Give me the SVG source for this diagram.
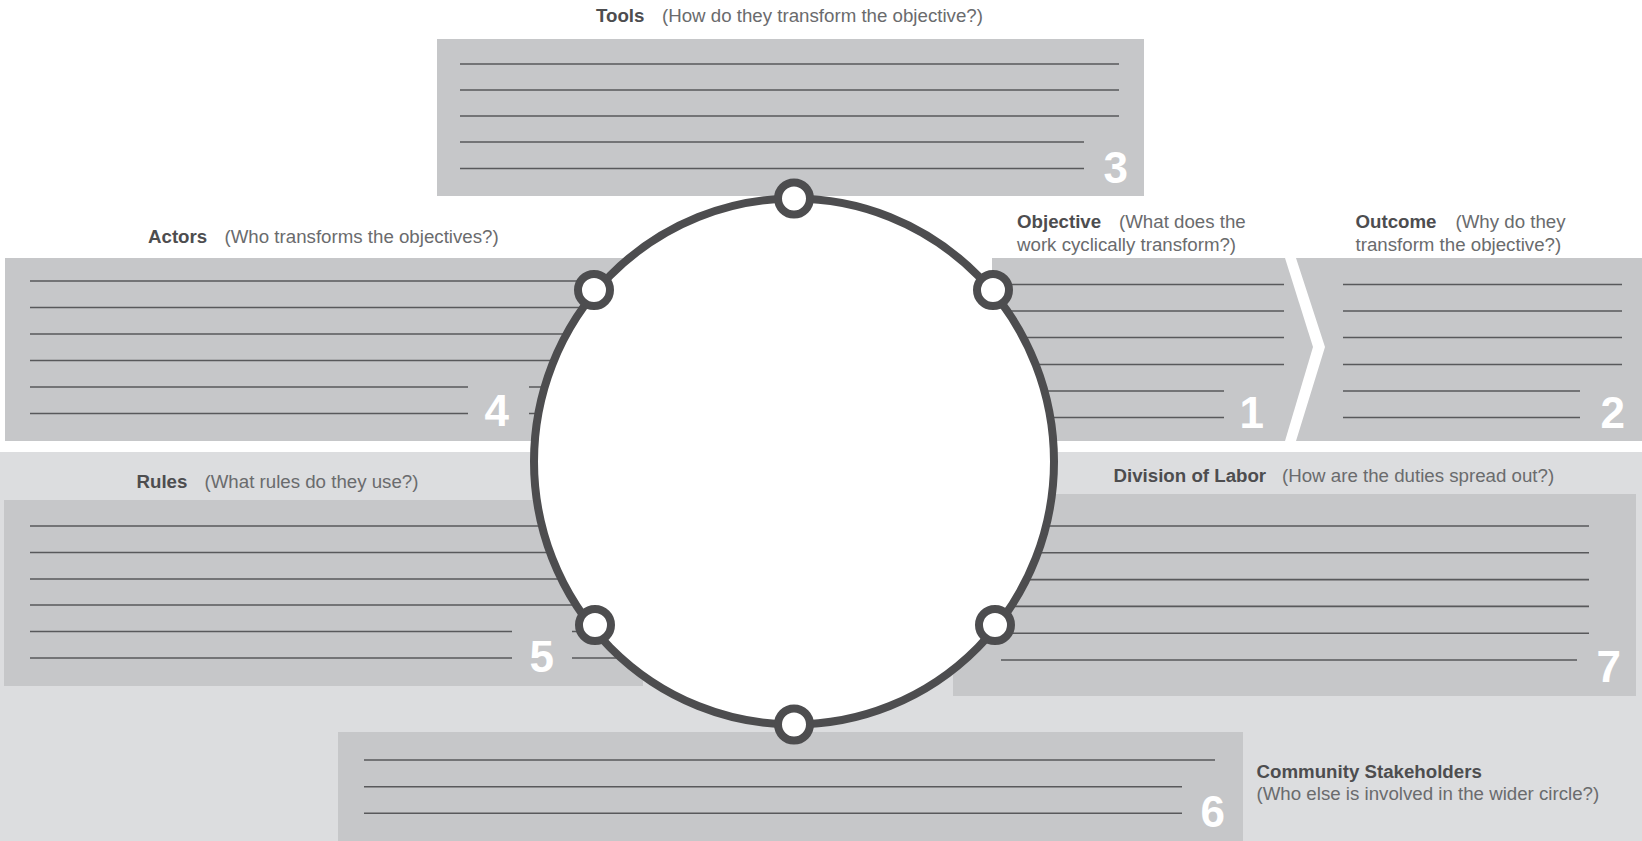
<svg xmlns="http://www.w3.org/2000/svg" width="1642" height="841" viewBox="0 0 1642 841">
<style>
.box{fill:#c6c7c9}
.ln{stroke:#58595b;stroke-width:1.6;fill:none}
.num{font-family:"Liberation Sans",Arial,sans-serif;font-weight:bold;font-size:44px;fill:#ffffff;text-anchor:end}
.lbl{font-family:"Liberation Sans",Arial,sans-serif;font-size:18.7px}
.b{font-weight:bold;fill:#4d4d4f}
.r{fill:#6a6b6d}
.ring{fill:#ffffff;stroke:#4d4d4f;stroke-width:8}
.dot{fill:#ffffff;stroke:#4d4d4f;stroke-width:8}
</style>
<rect x="0" y="0" width="1642" height="841" fill="#ffffff"/>
<rect x="0" y="452" width="1642" height="389" fill="#dcdddf"/>

<g id="node-tools">
<rect class="box" x="437" y="39" width="707" height="157"/>
<path class="ln" d="M460 64H1119M460 90H1119M460 116H1119M460 142H1084M460 168.5H1084"/>
<text class="num" x="1128" y="183">3</text>
<text class="lbl" y="22"><tspan class="b" x="596">Tools</tspan><tspan class="r" x="662">(How do they transform the objective?)</tspan></text>
</g>

<g id="node-actors">
<rect class="box" x="5" y="258" width="635" height="183"/>
<path class="ln" d="M30 281H630M30 307.5H630M30 334H630M30 360.5H630M30 387H468M529 387H630M30 413.5H468M529 413.5H630"/>
<text class="num" x="509" y="426">4</text>
<text class="lbl" y="243"><tspan class="b" x="148">Actors</tspan><tspan class="r" x="224.5">(Who transforms the objectives?)</tspan></text>
</g>

<g id="node-objective">
<polygon class="box" points="992,258 1285,258 1313,347 1285,441 992,441"/>
<path class="ln" d="M1000 284.5H1284M1000 311H1284M1000 337.5H1284M1000 364.5H1284M1000 391H1224M1000 417.5H1224"/>
<text class="num" x="1264" y="428">1</text>
<text class="lbl"><tspan class="b" x="1017" y="228">Objective</tspan><tspan class="r" x="1119" y="228">(What does the</tspan><tspan class="r" x="1017" y="251">work cyclically transform?)</tspan></text>
</g>

<g id="node-outcome">
<polygon class="box" points="1296,258 1642,258 1642,441 1296,441 1325,347"/>
<path class="ln" d="M1343 284.5H1622M1343 311H1622M1343 337.5H1622M1343 364.5H1622M1343 391H1580M1343 417.5H1580"/>
<text class="num" x="1625" y="428">2</text>
<text class="lbl"><tspan class="b" x="1355.5" y="228">Outcome</tspan><tspan class="r" x="1455.5" y="228">(Why do they</tspan><tspan class="r" x="1355.5" y="251">transform the objective?)</tspan></text>
</g>

<g id="node-rules">
<rect class="box" x="4" y="500" width="639" height="186"/>
<path class="ln" d="M30 526H630M30 552.5H630M30 579H630M30 605H630M30 631.5H512M572 631.5H630M30 658H512M572 658H630"/>
<text class="num" x="554" y="672">5</text>
<text class="lbl" y="488"><tspan class="b" x="136.5">Rules</tspan><tspan class="r" x="204.5">(What rules do they use?)</tspan></text>
</g>

<g id="node-division">
<rect class="box" x="953" y="494" width="683" height="202"/>
<path class="ln" d="M1001 526H1589M1001 552.8H1589M1001 579.6H1589M1001 606.4H1589M1001 633.2H1589M1001 660H1577"/>
<text class="num" x="1621" y="682">7</text>
<text class="lbl" y="481.5"><tspan class="b" x="1113.5">Division of Labor</tspan><tspan class="r" x="1282">(How are the duties spread out?)</tspan></text>
</g>

<g id="node-community">
<rect class="box" x="338" y="732" width="905" height="109"/>
<path class="ln" d="M364 760H1215M364 786.7H1182M364 813.3H1182"/>
<text class="num" x="1225" y="827">6</text>
<text class="lbl"><tspan class="b" x="1256.5" y="778">Community Stakeholders</tspan><tspan class="r" x="1256.5" y="800">(Who else is involved in the wider circle?)</tspan></text>
</g>

<g id="connectors">
<ellipse id="cycle-ring" class="ring" cx="794" cy="461.5" rx="260" ry="263"/>
<circle class="dot" cx="794" cy="198.5" r="16"/>
<circle class="dot" cx="594" cy="290" r="16"/>
<circle class="dot" cx="993" cy="290" r="16"/>
<circle class="dot" cx="595" cy="625" r="16"/>
<circle class="dot" cx="995" cy="625" r="16"/>
<circle class="dot" cx="794" cy="724.5" r="16"/>
</g>
</svg>
